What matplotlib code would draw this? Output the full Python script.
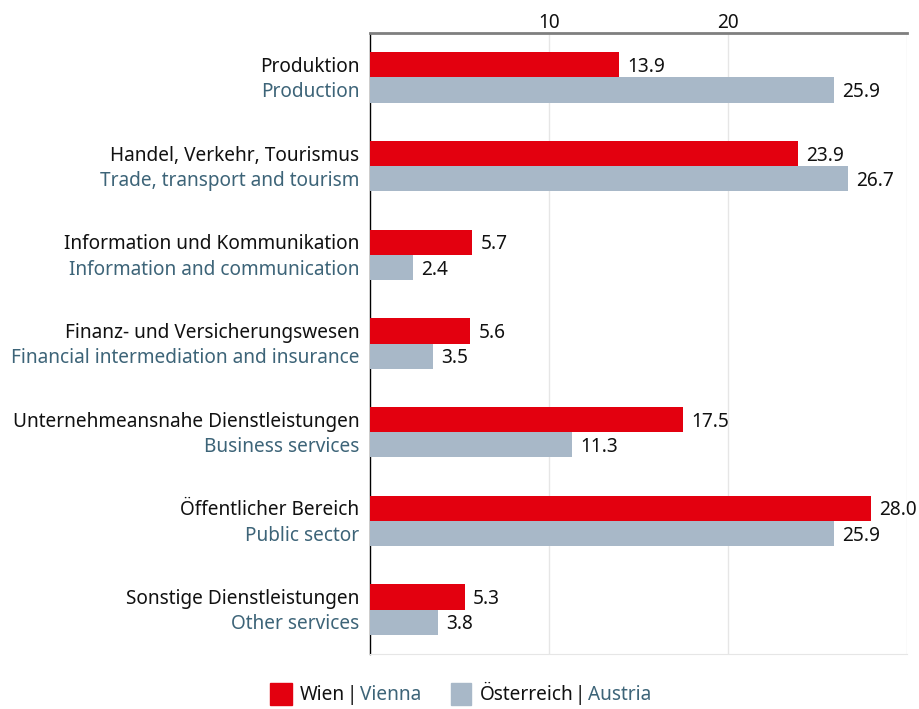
import matplotlib.pyplot as plt
import numpy as np
from matplotlib.patches import Rectangle

plt.rcParams['font.family'] = ['Noto Sans', 'DejaVu Sans']

labels_de = ['Produktion', 'Handel, Verkehr, Tourismus', 'Information und Kommunikation',
             'Finanz- und Versicherungswesen', 'Unternehmeansnahe Dienstleistungen',
             'Öffentlicher Bereich', 'Sonstige Dienstleistungen']
labels_en = ['Production', 'Trade, transport and tourism', 'Information and communication',
             'Financial intermediation and insurance', 'Business services',
             'Public sector', 'Other services']
wien = [13.9, 23.9, 5.7, 5.6, 17.5, 28.0, 5.3]
oesterreich = [25.9, 26.7, 2.4, 3.5, 11.3, 25.9, 3.8]

red = '#E3000F'
grey = '#A8B8C8'
teal = '#3D6478'
fs = 13.7
dy = -1.5  # nudge texts down a bit

fig = plt.figure(figsize=(9.2, 7.09), dpi=100)
ax = fig.add_axes([370/920, 1-654/709, (907-370)/920, (654-33)/709])

n = len(wien)
y = np.arange(n)
h = 0.285
ax.barh(y - h/2, wien, height=h, color=red, zorder=3)
ax.barh(y + h/2, oesterreich, height=h, color=grey, zorder=3)

for i in range(n):
    ax.annotate(f'{wien[i]:.1f}', xy=(wien[i], y[i]-h/2), xytext=(6, dy), textcoords='offset points',
                va='center', ha='left', fontsize=fs, color='#111111')
    ax.annotate(f'{oesterreich[i]:.1f}', xy=(oesterreich[i], y[i]+h/2), xytext=(6, dy), textcoords='offset points',
                va='center', ha='left', fontsize=fs, color='#111111')
    ax.annotate(labels_de[i], xy=(0, y[i]-h/2), xycoords=('axes fraction', 'data'),
                xytext=(-7.5, dy), textcoords='offset points', va='center', ha='right',
                fontsize=fs, color='#111111')
    ax.annotate(labels_en[i], xy=(0, y[i]+h/2), xycoords=('axes fraction', 'data'),
                xytext=(-7.5, dy), textcoords='offset points', va='center', ha='right',
                fontsize=fs, color=teal)

ax.set_xlim(0, 30)
ax.set_ylim(n - 0.5, -0.5)
ax.set_xticks([10, 20, 30])
ax.set_xticklabels(['10', '20', ''])
ax.xaxis.tick_top()
ax.tick_params(axis='x', length=0, labelsize=fs, pad=0, labelcolor='#111111')
ax.set_yticks([])
ax.grid(axis='x', color='#e6e6e6', lw=1, zorder=0)
ax.spines['top'].set_color('#7f7f7f')
ax.spines['top'].set_linewidth(2)
ax.spines['left'].set_color('black')
ax.spines['left'].set_linewidth(1)
ax.spines['right'].set_visible(False)
ax.spines['bottom'].set_color('#e6e6e6')

# legend
ly = 1 - 695/709
fig.patches.append(Rectangle((270/920, 1-705/709), 22/920, 22/709, transform=fig.transFigure,
                             color=red, figure=fig))
fig.text(300/920, ly, 'Wien', fontsize=fs, va='center', ha='left', color='#111111')
fig.text(347/920, ly, '|', fontsize=fs, va='center', ha='left', color='#111111')
fig.text(360/920, ly, 'Vienna', fontsize=fs, va='center', ha='left', color=teal)
fig.patches.append(Rectangle((451/920, 1-705/709), 20/920, 22/709, transform=fig.transFigure,
                             color=grey, figure=fig))
fig.text(480/920, ly, 'Österreich', fontsize=fs, va='center', ha='left', color='#111111')
fig.text(575/920, ly, '|', fontsize=fs, va='center', ha='left', color='#111111')
fig.text(588/920, ly, 'Austria', fontsize=fs, va='center', ha='left', color=teal)

plt.savefig('out.png', dpi=100)
